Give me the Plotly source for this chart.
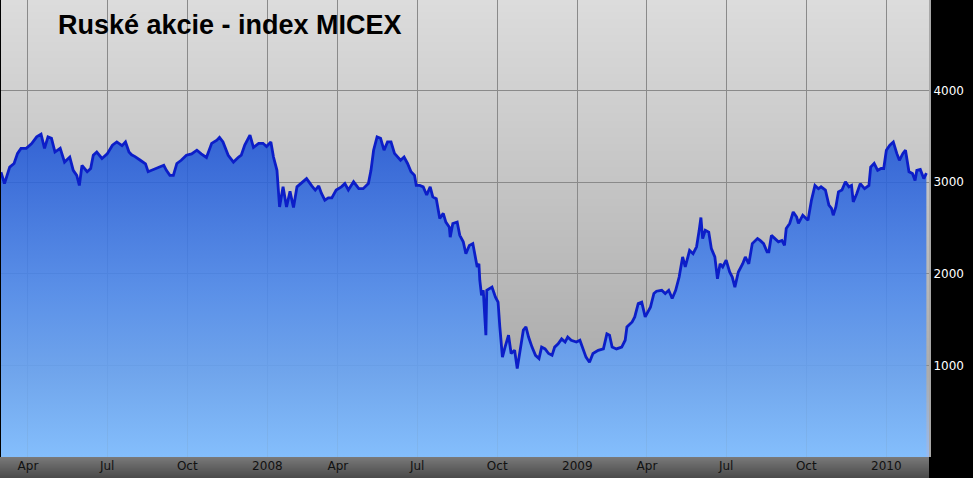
import zlib, struct, base64
import plotly.graph_objects as go

# ---- data ----
dates = [
 "2007-03-01","2007-03-05","2007-03-11","2007-03-16","2007-03-20","2007-03-24","2007-03-30",
 "2007-04-05","2007-04-11","2007-04-16","2007-04-20","2007-04-24","2007-04-28",
 "2007-05-02","2007-05-08","2007-05-13","2007-05-19","2007-05-23","2007-05-27","2007-05-30",
 "2007-06-02","2007-06-08","2007-06-12","2007-06-15","2007-06-19","2007-06-25",
 "2007-07-01","2007-07-07","2007-07-12","2007-07-18","2007-07-22","2007-07-26","2007-07-29",
 "2007-08-02","2007-08-08","2007-08-14","2007-08-17","2007-08-23","2007-08-29",
 "2007-09-04","2007-09-07","2007-09-11","2007-09-15","2007-09-19","2007-09-24","2007-09-30",
 "2007-10-06","2007-10-12","2007-10-17","2007-10-23","2007-10-29",
 "2007-11-04","2007-11-07","2007-11-11","2007-11-17","2007-11-23","2007-11-29",
 "2007-12-02","2007-12-06","2007-12-12","2007-12-16","2007-12-22","2007-12-27","2007-12-31",
 "2008-01-15","2008-01-18","2008-01-22","2008-01-24","2008-01-25","2008-01-29",
 "2008-02-02","2008-02-06","2008-02-10","2008-02-14","2008-02-19","2008-02-25",
 "2008-03-02","2008-03-06","2008-03-10","2008-03-13","2008-03-17","2008-03-21","2008-03-25","2008-03-30",
 "2008-04-05","2008-04-09","2008-04-13","2008-04-19","2008-04-25","2008-04-30",
 "2008-05-06","2008-05-09","2008-05-12","2008-05-16","2008-05-20","2008-05-24","2008-05-28",
 "2008-06-01","2008-06-05","2008-06-09","2008-06-12","2008-06-16","2008-06-20","2008-06-24","2008-06-28","2008-06-30",
 "2008-07-04","2008-07-08","2008-07-12","2008-07-16","2008-07-19","2008-07-23","2008-07-27","2008-07-31",
 "2008-08-03","2008-08-07","2008-08-08","2008-08-11","2008-08-16","2008-08-19","2008-08-23","2008-08-26","2008-08-30",
 "2008-09-03","2008-09-05","2008-09-08","2008-09-10","2008-09-11","2008-09-13","2008-09-15","2008-09-17",
 "2008-09-18","2008-09-19","2008-09-22","2008-09-25","2008-09-29",
 "2008-10-02","2008-10-04","2008-10-07","2008-10-10","2008-10-14","2008-10-17","2008-10-21","2008-10-24",
 "2008-10-27","2008-10-31",
 "2008-11-03","2008-11-06","2008-11-10","2008-11-14","2008-11-18","2008-11-21","2008-11-25","2008-11-29",
 "2008-12-03","2008-12-06","2008-12-10","2008-12-14","2008-12-18","2008-12-21","2008-12-25","2008-12-31",
 "2009-01-14","2009-01-18","2009-01-21","2009-01-25","2009-01-29",
 "2009-02-04","2009-02-10","2009-02-14","2009-02-17","2009-02-20","2009-02-25",
 "2009-03-03","2009-03-07","2009-03-09","2009-03-15","2009-03-18","2009-03-22","2009-03-26","2009-03-30",
 "2009-04-05","2009-04-09","2009-04-12","2009-04-18","2009-04-22","2009-04-26","2009-04-30",
 "2009-05-04","2009-05-08","2009-05-12","2009-05-15","2009-05-20","2009-05-24","2009-05-28","2009-05-31",
 "2009-06-02","2009-06-04","2009-06-07","2009-06-11","2009-06-14","2009-06-18","2009-06-21","2009-06-24","2009-06-27",
 "2009-07-01","2009-07-05","2009-07-08","2009-07-11","2009-07-15","2009-07-20","2009-07-23","2009-07-27","2009-07-31",
 "2009-08-06","2009-08-09","2009-08-13","2009-08-17","2009-08-19","2009-08-22","2009-08-26","2009-08-30",
 "2009-09-03","2009-09-06","2009-09-08","2009-09-12","2009-09-16","2009-09-20","2009-09-22","2009-09-27",
 "2009-10-03","2009-10-07","2009-10-11","2009-10-15","2009-10-18","2009-10-23","2009-10-27","2009-10-30",
 "2009-11-01","2009-11-04","2009-11-07","2009-11-11","2009-11-15","2009-11-19","2009-11-22","2009-11-24","2009-11-28",
 "2009-12-02","2009-12-07","2009-12-12","2009-12-14","2009-12-18","2009-12-22","2009-12-26","2009-12-29",
 "2010-01-11","2010-01-15","2010-01-19","2010-01-23","2010-01-26","2010-01-30",
 "2010-02-02","2010-02-06","2010-02-10","2010-02-13","2010-02-15","2010-02-19","2010-02-23","2010-02-26",
]
micex = [
 3110,2985,3165,3205,3315,3370,3370,
 3420,3495,3525,3370,3495,3480,
 3330,3370,3220,3275,3130,3075,2965,
 3185,3115,3150,3295,3330,3260,
 3310,3405,3440,3400,3440,3330,3300,
 3280,3240,3200,3115,3140,3165,
 3185,3130,3075,3075,3205,3240,3295,
 3310,3350,3310,3270,3425,
 3460,3490,3440,3295,3220,3275,
 3295,3405,3515,3380,3425,3425,3390,
 3440,3275,3130,2915,2730,2950,
 2730,2900,2725,2950,2990,3040,
 2960,2915,2960,2880,2805,2830,2830,2915,
 2950,2985,2915,3005,2930,2930,
 2985,3130,3350,3495,3480,3350,3440,
 3440,3315,3275,3240,3275,3205,3115,3075,2965,
 2965,2950,2860,2950,2840,2820,2605,2660,
 2565,2510,2400,2550,2565,2420,2350,2220,2310,
 2330,2220,2075,2110,1930,1765,1820,1490,
 1330,1820,1840,1855,1745,
 1690,1420,1090,1200,1330,1130,1165,965,
 1130,1385,
 1420,1310,1200,1110,1075,1200,1180,1130,
 1110,1200,1235,1290,1255,1310,1275,1255,
 1275,1180,1090,1035,1130,
 1165,1180,1345,1330,1200,1180,
 1200,1275,1420,1475,1530,1675,1690,1530,
 1635,1785,1810,1820,1785,1820,1730,
 1820,1965,2185,2075,2255,2220,2295,2475,
 2615,2385,2475,2455,2275,2185,1945,2110,2075,
 2150,2020,1965,1855,2020,2110,2185,2110,2330,
 2385,2365,2330,2240,2240,2420,2385,2350,
 2365,2310,2495,2550,2675,2620,2550,2640,
 2585,2805,2965,2930,2950,2915,2750,2715,
 2640,2730,2895,2915,3005,2950,2965,2785,2875,
 2985,2930,2965,3165,3205,3130,3150,3150,
 3350,3405,3440,3315,3240,3315,
 3350,3115,3095,3020,3130,3140,3040,3100,
]
tick_dates = ["2007-04-01","2007-07-01","2007-10-01","2008-01-11","2008-04-01","2008-07-01",
              "2008-10-01","2009-01-11","2009-04-01","2009-07-01","2009-10-01","2010-01-11"]
tick_labels = ["Apr","Jul","Oct","2008","Apr","Jul","Oct","2009","Apr","Jul","Oct","2010"]
y_ticks = [1000, 2000, 3000, 4000]
title_text = "Ruské akcie - index MICEX"
# January exchange holidays (no trading)
holidays = [f"{y}-01-{d:02d}" for y in (2008, 2009, 2010) for d in range(1, 11)]


def grad_png(stops, h=256):
    """vertical gradient image, stops = [(fraction_from_top, (r,g,b)), ...]"""
    rows = []
    for i in range(h):
        t = i / (h - 1)
        for (f0, c0), (f1, c1) in zip(stops[:-1], stops[1:]):
            if f0 <= t <= f1:
                u = (t - f0) / (f1 - f0) if f1 > f0 else 0
                c = [round(c0[k] + (c1[k] - c0[k]) * u) for k in range(3)]
                break
        rows.append(b"\x00" + bytes(c) * 2)
    raw = b"".join(rows)

    def chunk(tag, data):
        return (struct.pack(">I", len(data)) + tag + data +
                struct.pack(">I", zlib.crc32(tag + data) & 0xffffffff))
    png = (b"\x89PNG\r\n\x1a\n" +
           chunk(b"IHDR", struct.pack(">IIBBBBB", 2, h, 8, 2, 0, 0, 0)) +
           chunk(b"IDAT", zlib.compress(raw)) + chunk(b"IEND", b""))
    return "data:image/png;base64," + base64.b64encode(png).decode()


fig = go.Figure()
fig.add_trace(go.Scatter(
    x=dates, y=micex, mode="lines",
    line=dict(color="rgb(12,30,200)", width=2.8),
    fill="tozeroy",
    fillgradient=dict(type="vertical", start=0, stop=3500,
                      colorscale=[[0, "rgba(129,191,254,0.85)"],
                                  [0.5, "rgba(76,139,241,0.85)"],
                                  [1, "rgba(26,82,214,0.85)"]]),
    hoverinfo="skip",
))

fig.update_layout(
    width=973, height=478,
    margin=dict(l=1, r=44, t=0, b=21),
    paper_bgcolor="black",
    plot_bgcolor="rgba(0,0,0,0)",
    showlegend=False,
    images=[
        dict(source=grad_png([(0, (220, 220, 220)), (0.82, (172, 172, 172)), (1, (150, 185, 240))]),
             xref="paper", yref="paper",
             x=0, y=1, sizex=1, sizey=1, sizing="stretch", layer="below",
             xanchor="left", yanchor="top"),
        dict(source=grad_png([(0, (122, 122, 122)), (1, (74, 74, 74))], 64),
             xref="paper", yref="paper",
             x=-0.0011, y=0, sizex=1.0011, sizey=21 / 457, sizing="stretch", layer="below",
             xanchor="left", yanchor="top"),
    ],
    annotations=[dict(text="<b>" + title_text + "</b>", xref="paper", yref="paper",
                      x=0.059, y=0.946, xanchor="left", yanchor="middle", showarrow=False,
                      font=dict(family="Liberation Sans, Arial", size=27, color="black"))],
)
fig.update_xaxes(
    type="date", range=["2007-03-01", "2010-03-01"],
    rangebreaks=[dict(values=holidays)],
    tickmode="array", tickvals=tick_dates, ticktext=tick_labels,
    showgrid=True, gridcolor="#8a8a8a", gridwidth=1,
    ticks="", zeroline=False, showline=False,
    tickfont=dict(family="DejaVu Sans", size=12, color="#111111"),
)
fig.update_yaxes(
    side="right", range=[0, 4990], tickvals=y_ticks,
    showgrid=True, gridcolor="#8a8a8a", gridwidth=1,
    ticks="", zeroline=False, showline=True, linecolor="#a8a8a8", linewidth=2,
    tickfont=dict(family="DejaVu Sans", size=12, color="white"),
)
fig.write_html("out.html", config={"displayModeBar": False},
               post_script="document.body.style.margin='0';document.body.style.overflow='hidden';")
